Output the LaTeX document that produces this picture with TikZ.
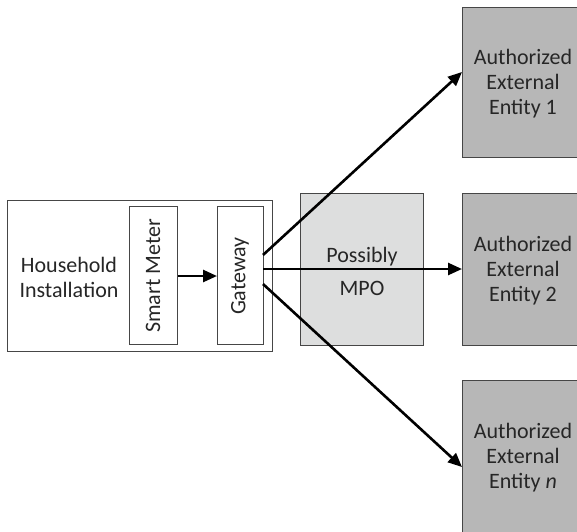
\documentclass[tikz,border=0pt]{standalone}
\usepackage{fontspec}
\setmainfont{Carlito}
\usetikzlibrary{arrows.meta}
\definecolor{mpofill}{RGB}{221,222,222}
\definecolor{entfill}{RGB}{183,183,183}
\definecolor{edge}{RGB}{70,70,70}
\tikzset{
  box/.style={draw=edge, line width=1pt, inner sep=0pt},
  txt/.style={font=\fontsize{22}{25}\selectfont, text=black!85, align=center, inner sep=0pt},
  conn/.style={line width=2.6pt, -{Triangle[length=14pt,width=12pt]}}
}
\begin{document}
\begin{tikzpicture}[x=1pt,y=-1pt]
\useasboundingbox (0,0) rectangle (577,531);
% household
\node[box, minimum width=265pt, minimum height=151pt, anchor=north west] (hh) at (7,200) {};
\node[txt] (hhl) at (69,277) {Household\\Installation};
\node[box, minimum width=48pt, minimum height=138pt, anchor=north west] (sm) at (129,206) {};
\node[txt, rotate=90] (sml) at (153,276) {Smart Meter};
\node[box, minimum width=46pt, minimum height=138pt, anchor=north west] (gw) at (217,206) {};
\node[txt, rotate=90] (gwl) at (240,276) {Gateway};
% MPO
\node[box, fill=mpofill, minimum width=123pt, minimum height=152pt, anchor=north west] (mpo) at (300,193) {};
\node[txt, font=\fontsize{22}{33}\selectfont] (mpol) at (362,271) {Possibly\\MPO};
% entities
\node[box, fill=entfill, minimum width=125pt, minimum height=150pt, anchor=north west] (e1) at (462,7) {};
\node[txt] (e1l) at (523,84) {Authorized\\External\\Entity 1};
\node[box, fill=entfill, minimum width=125pt, minimum height=152pt, anchor=north west] (e2) at (462,193) {};
\node[txt] (e2l) at (523,271) {Authorized\\External\\Entity 2};
\node[box, fill=entfill, minimum width=125pt, minimum height=156pt, anchor=north west] (en) at (462,380) {};
\node[txt] (enl) at (523,458) {Authorized\\External\\Entity \textit{n}};
% connectors
\draw[conn] (sm.east |- 0,276) -- (gw.west |- 0,276);
\coordinate (g1) at (263,255);
\coordinate (g2) at (263,269);
\coordinate (g3) at (263,284);
\coordinate (t1) at (462,72);
\coordinate (t3) at (462,467);
\draw[conn] (g1) -- (t1);
\draw[conn] (g2) -- (e2.west |- g2);
\draw[conn] (g3) -- (t3);
\end{tikzpicture}
\end{document}
